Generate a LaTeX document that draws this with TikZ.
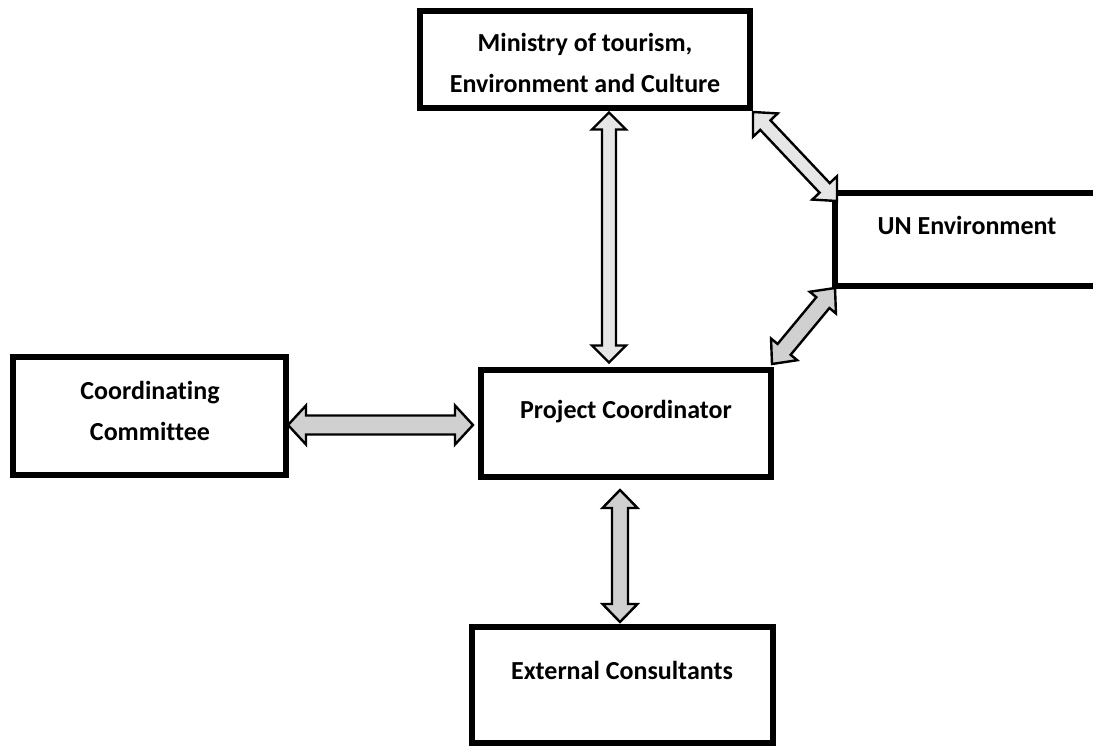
\documentclass[tikz,border=0pt]{standalone}
\usepackage{fontspec}
\setmainfont{Carlito}[Ligatures=NoCommon]
\usetikzlibrary{calc}
\definecolor{lightfill}{HTML}{E6E6E6}
\definecolor{midfill}{HTML}{D0D0D0}
\newcommand\mkarrow[6]{%
  \coordinate (ta) at ($(#1)!#5!(#2)$);
  \coordinate (tb) at ($(#2)!#5!(#1)$);
  \draw[arrowline, fill=#6] (#1) -- ($(ta)!#4!90:(#2)$) -- ($(ta)!#3!90:(#2)$)
    -- ($(tb)!#3!-90:(#1)$) -- ($(tb)!#4!-90:(#1)$) -- (#2)
    -- ($(tb)!#4!90:(#1)$) -- ($(tb)!#3!90:(#1)$)
    -- ($(ta)!#3!-90:(#2)$) -- ($(ta)!#4!-90:(#2)$) -- cycle;}
\begin{document}
\begin{tikzpicture}[x=1pt,y=-1pt,
  box/.style={draw=black, line width=5.5pt, fill=white, inner sep=0pt},
  lbl/.style={align=center, inner sep=0pt, font=\fontsize{26}{41}\selectfont\bfseries},
  arrowline/.style={draw=black, line width=2.4pt, line join=miter, miter limit=10}]
\useasboundingbox (0,0) rectangle (1093,746);
% boxes
\node[box, minimum width=330pt, minimum height=97pt] (min) at (585,59.5) {};
\node[box, minimum width=264pt, minimum height=93pt] (un) at (967,239.5) {};
\node[box, minimum width=290pt, minimum height=107pt] (pc) at (626,423.5) {};
\node[box, minimum width=273pt, minimum height=118pt] (cc) at (149.5,416) {};
\node[box, minimum width=301pt, minimum height=116pt] (ext) at (622.5,685) {};
% labels
\node[lbl] (minT) at (585,63) {Ministry of tourism,\\Environment and Culture};
\node[lbl] (unT) at (967,225) {UN Environment};
\node[lbl] (pcT) at (626,412) {Project Coordinator};
\node[lbl] (ccT) at (150,411) {Coordinating\\Committee};
\node[lbl] (extT) at (622,670) {External Consultants};
% arrow end points
\coordinate (a1t) at (609,112.5);
\coordinate (a1b) at (609,362.5);
\coordinate (a2t) at (753,112);
\coordinate (a2b) at (837,201);
\coordinate (a3t) at (835,288);
\coordinate (a3b) at (772,364);
\coordinate (a4l) at (288,425);
\coordinate (a4r) at (473,425);
\coordinate (a5t) at (620,490);
\coordinate (a5b) at (620,622);
% block arrows
\mkarrow{a1t}{a1b}{7pt}{17pt}{17pt}{lightfill}
\mkarrow{a2t}{a2b}{7pt}{17pt}{18pt}{lightfill}
\mkarrow{a3t}{a3b}{8.5pt}{17pt}{19pt}{midfill}
\mkarrow{a4l}{a4r}{9.5pt}{19.5pt}{18pt}{midfill}
\mkarrow{a5t}{a5b}{8pt}{17.5pt}{18pt}{midfill}
\end{tikzpicture}
\end{document}
